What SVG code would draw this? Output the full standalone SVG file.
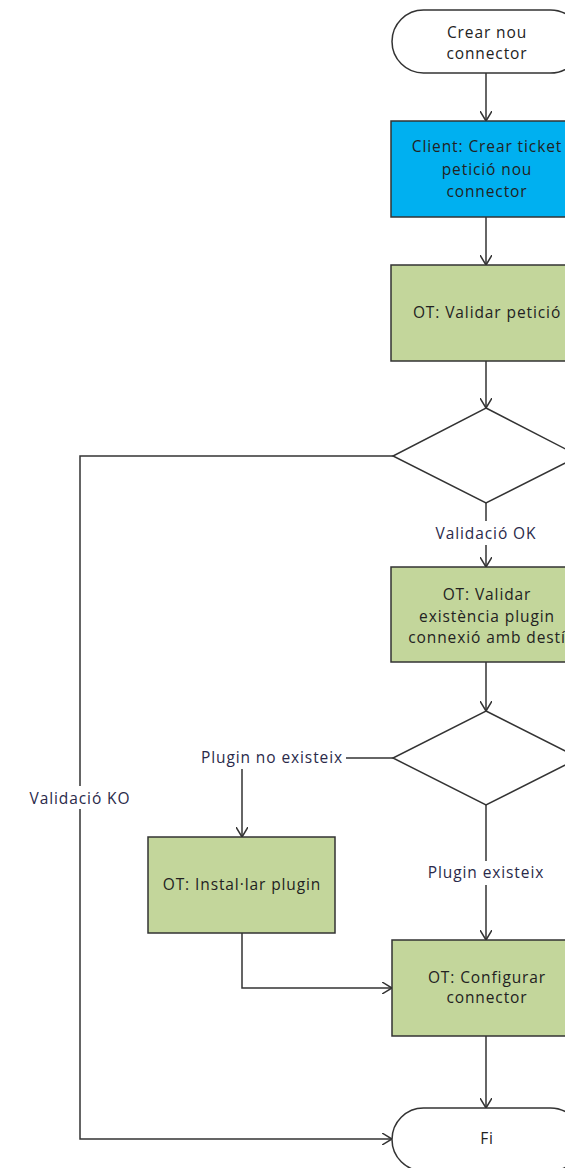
<svg xmlns="http://www.w3.org/2000/svg" width="565" height="1168" viewBox="0 0 565 1168">
<style>
.n{stroke:#333;stroke-width:1.5}
.g{fill:#C3D69B}
.b{fill:#00B0F0}
.w{fill:#fff}
.c{fill:none;stroke:#333;stroke-width:1.5}
text{font-family:"Open Sans","Liberation Sans",sans-serif;font-size:15.5px;letter-spacing:0.9px;fill:#222;text-anchor:middle}
.lbl{fill:#2a2a4a}
</style>
<defs>
<marker id="a" markerWidth="12" markerHeight="12" refX="10" refY="6" orient="auto" markerUnits="userSpaceOnUse">
<path d="M0,0 L10,6 L0,12" fill="none" stroke="#333" stroke-width="1.5"/>
</marker>
</defs>
<rect width="565" height="1168" fill="#fff"/>
<g id="connectors">
<path class="c" d="M486,73 V121" marker-end="url(#a)"/>
<path class="c" d="M486,217 V265" marker-end="url(#a)"/>
<path class="c" d="M486,361 V408" marker-end="url(#a)"/>
<path class="c" d="M486,503 V521"/>
<path class="c" d="M486,545 V567" marker-end="url(#a)"/>
<path class="c" d="M486,662 V711" marker-end="url(#a)"/>
<path class="c" d="M393,758 H346"/>
<path class="c" d="M242,769 V837" marker-end="url(#a)"/>
<path class="c" d="M486,805 V861"/>
<path class="c" d="M486,885 V940" marker-end="url(#a)"/>
<path class="c" d="M242,933 V988 H392" marker-end="url(#a)"/>
<path class="c" d="M486,1036 V1108" marker-end="url(#a)"/>
<path class="c" d="M393,456 H80 V786"/>
<path class="c" d="M80,809 V1139 H392" marker-end="url(#a)"/>
<text class="lbl" x="486" y="539">Validació OK</text>
<text class="lbl" x="272" y="763">Plugin no existeix</text>
<text class="lbl" x="486" y="878">Plugin existeix</text>
<text class="lbl" x="80" y="804">Validació KO</text>
</g>
<g id="start">
<rect class="n w" x="392" y="10" width="190" height="63" rx="31.5"/>
<text x="487" y="38">Crear nou</text>
<text x="487" y="59">connector</text>
</g>
<g id="ticket">
<rect class="n b" x="391" y="121" width="190" height="96"/>
<text x="487" y="152">Client: Crear ticket</text>
<text x="487" y="175">petició nou</text>
<text x="487" y="197">connector</text>
</g>
<g id="validar">
<rect class="n g" x="391" y="265" width="190" height="96"/>
<text x="487" y="318">OT: Validar petició</text>
</g>
<g id="dec1">
<polygon class="n w" points="486,408 579,456 486,503 393,456"/>
</g>
<g id="validarplugin">
<rect class="n g" x="391" y="567" width="190" height="95"/>
<text x="487" y="600">OT: Validar</text>
<text x="487" y="622">existència plugin</text>
<text x="487" y="643">connexió amb destí</text>
</g>
<g id="dec2">
<polygon class="n w" points="486,711 579,758 486,805 393,758"/>
</g>
<g id="instalar">
<rect class="n g" x="148" y="837" width="187" height="96"/>
<text x="242" y="890">OT: Instal·lar plugin</text>
</g>
<g id="configurar">
<rect class="n g" x="392" y="940" width="190" height="96"/>
<text x="487" y="983">OT: Configurar</text>
<text x="487" y="1003">connector</text>
</g>
<g id="fi">
<rect class="n w" x="392" y="1108" width="190" height="63" rx="31.5"/>
<text x="487" y="1144">Fi</text>
</g>
</svg>
